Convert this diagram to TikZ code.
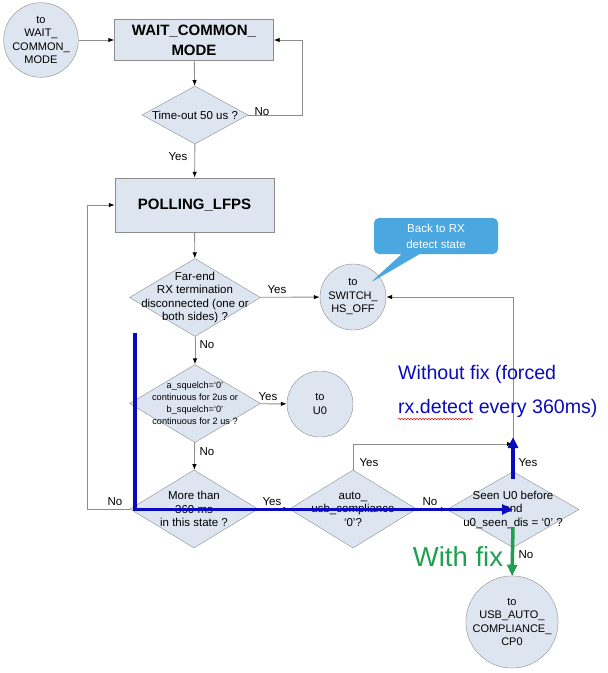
\documentclass[tikz,border=0pt]{standalone}
\usepackage{fontspec}
\setmainfont{Liberation Sans}
\usetikzlibrary{arrows.meta,shapes.geometric,shapes.callouts,decorations.pathmorphing}
\definecolor{BoxFill}{HTML}{DDE5F0}
\definecolor{LineGray}{HTML}{8C8C8C}
\definecolor{FixBlue}{HTML}{0A0ABE}
\definecolor{FixGreen}{HTML}{1FA04E}
\definecolor{NoteBlue}{HTML}{4BA7E0}

\begin{document}
\begin{tikzpicture}[x=1pt,y=-1pt,
    state/.style={draw=LineGray,fill=BoxFill,minimum width=159pt,align=center,font=\fontsize{15}{20}\selectfont\bfseries},
    term/.style={circle,draw=LineGray,fill=BoxFill,inner sep=0pt,minimum size=66pt,align=center,font=\fontsize{11}{13.5}\selectfont},
    dia/.style={diamond,draw=LineGray,fill=BoxFill,inner sep=0pt,minimum width=131pt,minimum height=78pt},
    txt/.style={align=center,inner sep=0pt,font=\fontsize{11.5}{13.5}\selectfont},
    lbl/.style={inner sep=1pt,font=\fontsize{11.5}{13}\selectfont},
    arrow/.style={draw=LineGray,line width=0.9pt,-{Latex[color=black,length=6pt,width=4.5pt]}},
    fix/.style={FixBlue,line width=3.5pt,-{Triangle[length=11pt,width=10pt]}}
  ]
    \useasboundingbox (0,0) rectangle (608,673);
    % states and decisions
    \node[term] (towait) at (41,40) {to\\WAIT\_\\COMMON\_\\MODE};
    \node[state,minimum height=41pt] (wait) at (194,40) {WAIT\_COMMON\_\\MODE};
    \node[dia,minimum width=106pt,minimum height=58pt] (timeout) at (195,115) {};
    \node[txt] (timeouttxt) at (timeout) {Time-out 50 us ?};
    \node[state,minimum height=54pt] (polling) at (194.5,205) {POLLING\_LFPS};
    \node[dia] (farend) at (195,297.5) {};
    \node[txt] (farendtxt) at (farend) {Far-end\\RX termination\\disconnected (one or\\both sides) ?};
    \node[term] (switch) at (353,297) {to\\SWITCH\_\\HS\_OFF};
    \node[dia] (squelch) at (195,403.5) {};
    \node[txt,font=\fontsize{9.2}{12}\selectfont] (squelchtxt) at (squelch) {a\_squelch=`0'\\continuous for 2us or\\b\_squelch=`0'\\continuous for 2 us ?};
    \node[term] (u0) at (320,404) {to\\U0};
    \node[dia,minimum width=128pt] (more) at (194,509) {};
    \node[txt] (moretxt) at (more) {More than\\360 ms\\in this state ?};
    \node[dia,minimum width=127pt] (auto) at (353,509) {};
    \node[txt] (autotxt) at (auto) {auto\_\\usb\_compliance\\`0'?};
    \node[dia,minimum width=132pt,minimum height=76pt] (seen) at (513,509.5) {};
    \node[txt] (seentxt) at (seen) {Seen U0 before\\and\\u0\_seen\_dis = `0' ?};
    \node[term,minimum size=92pt] (usb) at (512,622) {to\\USB\_AUTO\_\\COMPLIANCE\_\\CP0};

    % connectors
    \draw[arrow] (towait) -- (wait);
    \draw[arrow] (wait) -- (timeout);
    \draw[arrow] (timeout.east) -- ++(54,0) |- (wait.east);
    \draw[arrow] (timeout) -- (polling);
    \draw[arrow] (polling) -- (farend);
    \draw[arrow] (farend) -- (switch);
    \draw[arrow] (farend) -- (squelch);
    \draw[arrow] (squelch) -- (u0);
    \draw[arrow] (squelch) -- (more);
    \draw[arrow] (more.west) -- ++(-42,0) |- (polling.west);
    \draw[arrow] (more) -- (auto);
    \draw[arrow] (auto) -- (seen);
    \coordinate (join) at (513,444);
    \draw[arrow] (auto.north) |- (join);
    \draw[arrow] (seen.north) |- (switch.east);
    \draw[arrow] (seen) -- (usb);

    % branch labels
    \node[lbl] (l1) at (262,112) {No};
    \node[lbl] (l2) at (178,157) {Yes};
    \node[lbl] (l3) at (277,290) {Yes};
    \node[lbl] (l4) at (207,345) {No};
    \node[lbl] (l5) at (268,397) {Yes};
    \node[lbl] (l6) at (207,452) {No};
    \node[lbl] (l7) at (115,502) {No};
    \node[lbl] (l8) at (272,502) {Yes};
    \node[lbl] (l9) at (430,502) {No};
    \node[lbl] (l10) at (369,463) {Yes};
    \node[lbl] (l11) at (528,463) {Yes};
    \node[lbl] (l12) at (526,555) {No};

    % note
    \node[rectangle callout,fill=NoteBlue,rounded corners=5pt,minimum width=124pt,minimum height=36pt,
      text=white,align=center,font=\fontsize{11.5}{16}\selectfont,
      callout absolute pointer={(370,283)},callout pointer width=18pt] (note) at (436,236) {Back to RX\\detect state};

    % fix paths
    \coordinate (nofixtop) at (135,333);
    \draw[fix] (nofixtop) |- (seen.center);
    \coordinate (upstart) at (513,479);
    \coordinate (uptip) at (513,437);
    \draw[fix] (upstart) -- (uptip);
    \coordinate (fixstart) at (513,527);
    \draw[fix,FixGreen] (fixstart) -- (usb.north);

    \node[anchor=west,inner sep=0pt,text=FixBlue,font=\fontsize{19.6}{24}\selectfont] (nofix1) at (398,374) {Without fix (forced};
    \node[anchor=west,inner sep=0pt,text=FixBlue,font=\fontsize{19.6}{24}\selectfont] (nofix2) at (398,408) {rx.detect every 360ms)};
    \draw[red,line width=0.5pt,decorate,decoration={snake,amplitude=0.7pt,segment length=3pt}] (398,419) -- (473,419);
    \node[inner sep=0pt,text=FixGreen,font=\fontsize{27.5}{30}\selectfont] (withfix) at (458,557) {With fix};
  \end{tikzpicture}
\end{document}
